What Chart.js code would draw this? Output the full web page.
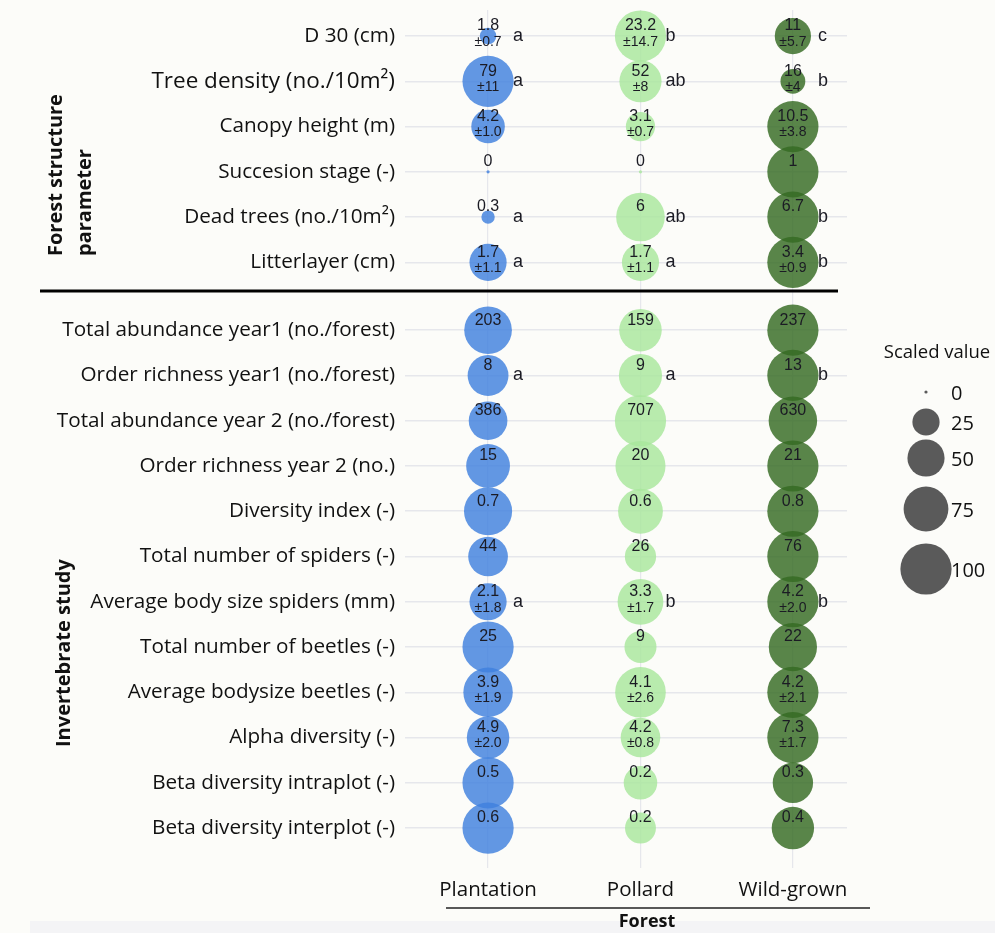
<!DOCTYPE html>
<html>
<head>
<meta charset="utf-8">
<title>Forest structure and invertebrate study</title>
<script src="https://cdn.jsdelivr.net/npm/chart.js@4.4.1/dist/chart.umd.min.js"></script>
<style>
  html, body { margin: 0; padding: 0; background: #fcfcf9; }
  #wrap { width: 995px; height: 933px; position: relative; }
</style>
</head>
<body>
<div id="wrap"><canvas id="chart" width="995" height="933"></canvas></div>
<script>
// Forest types (x categories)
const forestTypes = ['Plantation', 'Pollard', 'Wild-grown'];

// Measured parameters, top to bottom; the first 6 are forest structure, the rest invertebrate study
const rowLabels = [
  'D 30 (cm)',
  'Tree density (no./10m\u00B2)',
  'Canopy height (m)',
  'Succesion stage (-)',
  'Dead trees (no./10m\u00B2)',
  'Litterlayer (cm)',
  'Total abundance year1 (no./forest)',
  'Order richness year1 (no./forest)',
  'Total abundance year 2 (no./forest)',
  'Order richness year 2 (no.)',
  'Diversity index (-)',
  'Total number of spiders (-)',
  'Average body size spiders (mm)',
  'Total number of beetles (-)',
  'Average bodysize beetles (-)',
  'Alpha diversity (-)',
  'Beta diversity intraplot (-)',
  'Beta diversity interplot (-)'
];
const structureRowCount = 6;

// Mean values per forest type
const plantationMeans = [1.8, 79, 4.2, 0, 0.3, 1.7, 203, 8, 386, 15, 0.7, 44, 2.1, 25, 3.9, 4.9, 0.5, 0.6];
const pollardMeans    = [23.2, 52, 3.1, 0, 6, 1.7, 159, 9, 707, 20, 0.6, 26, 3.3, 9, 4.1, 4.2, 0.2, 0.2];
const wildMeans       = [11, 16, 10.5, 1, 6.7, 3.4, 237, 13, 630, 21, 0.8, 76, 4.2, 22, 4.2, 7.3, 0.3, 0.4];

// Standard deviations (text as reported)
const plantationSD = ['0.7', '11', '1.0', null, null, '1.1', null, null, null, null, null, null, '1.8', null, '1.9', '2.0', null, null];
const pollardSD    = ['14.7', '8', '0.7', null, null, '1.1', null, null, null, null, null, null, '1.7', null, '2.6', '0.8', null, null];
const wildSD       = ['5.7', '4', '3.8', null, null, '0.9', null, null, null, null, null, null, '2.0', null, '2.1', '1.7', null, null];

// Significance letters
const plantationSig = ['a', 'a', '', '', 'a', 'a', '', 'a', '', '', '', '', 'a', '', '', '', '', ''];
const pollardSig    = ['b', 'ab', '', '', 'ab', 'a', '', 'a', '', '', '', '', 'b', '', '', '', '', ''];
const wildSig       = ['c', 'b', '', '', 'b', 'b', '', 'b', '', '', '', '', 'b', '', '', '', '', ''];

// Size legend values
const legendValues = [0, 25, 50, 75, 100];

const meansByType = [plantationMeans, pollardMeans, wildMeans];
const sdByType = [plantationSD, pollardSD, wildSD];
const sigByType = [plantationSig, pollardSig, wildSig];
const fillColors = ['rgba(63,128,222,0.82)', 'rgba(168,230,156,0.82)', 'rgba(52,106,34,0.82)'];

// y position of each row: half-row extra gap between the two groups
function rowPos(i) { return i < structureRowCount ? i : i + 0.5; }
// bubble radius from a 0-100 scaled value (area proportional)
function radiusFor(scaled) { return 1.6 + 2.4 * Math.sqrt(scaled); }

// each row is scaled to its maximum across forest types
const rowMax = rowLabels.map((_, i) => Math.max(plantationMeans[i], pollardMeans[i], wildMeans[i]));

const datasets = forestTypes.map((name, t) => ({
  label: name,
  data: meansByType[t].map((v, i) => ({
    x: t,
    y: rowPos(i),
    r: radiusFor(rowMax[i] > 0 ? v / rowMax[i] * 100 : 0),
    mean: v,
    sd: sdByType[t][i],
    sig: sigByType[t][i]
  })),
  backgroundColor: fillColors[t],
  borderWidth: 0,
  hoverRadius: 0
}));

const textFont = '"Open Sans", sans-serif';
const numFont = '"Liberation Sans", Arial, sans-serif';

const annotate = {
  id: 'annotate',
  beforeDraw(chart) {
    const ctx = chart.ctx;
    ctx.save();
    ctx.fillStyle = '#fcfcf9';
    ctx.fillRect(0, 0, chart.width, chart.height);
    ctx.fillStyle = '#f4f4f6';
    ctx.fillRect(30, 921, chart.width - 30, chart.height - 921);
    ctx.restore();
  },
  afterDatasetsDraw(chart) {
    const ctx = chart.ctx;
    ctx.save();
    ctx.fillStyle = '#1b1b24';
    chart.data.datasets.forEach((ds, d) => {
      const meta = chart.getDatasetMeta(d);
      meta.data.forEach((el, i) => {
        const p = ds.data[i];
        ctx.textAlign = 'center';
        ctx.textBaseline = 'middle';
        ctx.font = '16px ' + numFont;
        ctx.fillText(String(p.mean), el.x, el.y - 10);
        if (p.sd) {
          ctx.font = '14px ' + numFont;
          ctx.fillText('\u00B1' + p.sd, el.x, el.y + 6);
        }
        if (p.sig) {
          ctx.textAlign = 'left';
          ctx.font = '18px ' + numFont;
          ctx.fillText(p.sig, el.x + 25, el.y);
        }
      });
    });
    ctx.restore();
  },
  afterDraw(chart) {
    const ctx = chart.ctx;
    const ys = chart.scales.y;
    ctx.save();

    // separator between the two parameter groups
    const sepY = Math.round(ys.getPixelForValue(structureRowCount - 1 + 0.64));
    ctx.strokeStyle = '#000';
    ctx.lineWidth = 3;
    ctx.beginPath();
    ctx.moveTo(40, sepY);
    ctx.lineTo(838, sepY);
    ctx.stroke();

    // group titles (rotated)
    ctx.fillStyle = '#111';
    ctx.font = 'bold 20px ' + textFont;
    ctx.textBaseline = 'middle';
    ctx.textAlign = 'left';
    const drawRot = (txt, x, y) => {
      ctx.save();
      ctx.translate(x, y);
      ctx.rotate(-Math.PI / 2);
      ctx.fillText(txt, 0, 0);
      ctx.restore();
    };
    drawRot('Forest structure', 56, 256);
    drawRot('parameter', 85, 256);
    drawRot('Invertebrate study', 64, 747);

    // x axis underline and title
    ctx.strokeStyle = '#222';
    ctx.lineWidth = 1.5;
    ctx.beginPath();
    ctx.moveTo(446, 908);
    ctx.lineTo(870, 908);
    ctx.stroke();
    ctx.textAlign = 'center';
    ctx.font = 'bold 18px ' + textFont;
    ctx.fillText('Forest', 647, 922);

    // size legend
    ctx.font = '18.5px ' + textFont;
    ctx.fillStyle = '#111';
    ctx.fillText('Scaled value', 937, 353);
    const legendY = [392, 422, 458, 509, 569];
    legendValues.forEach((v, k) => {
      ctx.fillStyle = '#5a5a5a';
      ctx.beginPath();
      ctx.arc(926, legendY[k], radiusFor(v), 0, Math.PI * 2);
      ctx.fill();
      ctx.fillStyle = '#111';
      ctx.textAlign = 'left';
      ctx.font = '20px ' + textFont;
      ctx.fillText(String(v), 951, legendY[k] + 2);
    });
    ctx.restore();
  }
};

new Chart(document.getElementById('chart'), {
  type: 'bubble',
  data: { datasets },
  plugins: [annotate],
  options: {
    responsive: false,
    animation: false,
    events: [],
    layout: { autoPadding: false, padding: { top: 10, right: 148, left: 0, bottom: 0 } },
    plugins: { legend: { display: false }, tooltip: { enabled: false } },
    scales: {
      x: {
        type: 'linear',
        min: -0.545,
        max: 2.355,
        afterBuildTicks(scale) { scale.ticks = forestTypes.map((_, i) => ({ value: i })); },
        afterFit(scale) { scale.height = 71; scale.paddingLeft = 0; scale.paddingRight = 0; },
        ticks: {
          autoSkip: false,
          maxRotation: 0,
          padding: 10,
          color: '#111',
          font: { family: '"Open Sans", sans-serif', size: 20.5 },
          callback: (v) => forestTypes[v]
        },
        grid: { color: '#e6e7ec', lineWidth: 1.2, tickLength: 6, drawTicks: true },
        border: { display: false }
      },
      y: {
        type: 'linear',
        reverse: true,
        min: -0.575,
        max: 18.25,
        afterBuildTicks(scale) { scale.ticks = rowLabels.map((_, i) => ({ value: rowPos(i) })); },
        afterFit(scale) { scale.width = 405; scale.paddingTop = 0; scale.paddingBottom = 0; },
        ticks: {
          autoSkip: false,
          padding: 10,
          color: '#111',
          font: (c) => ({ family: '"Open Sans", sans-serif', size: c.index === 1 ? 22.5 : 20.7 }),
          callback: (v, i) => rowLabels[i]
        },
        grid: { color: '#e6e7ec', lineWidth: 1.5, drawTicks: false },
        border: { display: false }
      }
    }
  }
});
</script>
</body>
</html>
